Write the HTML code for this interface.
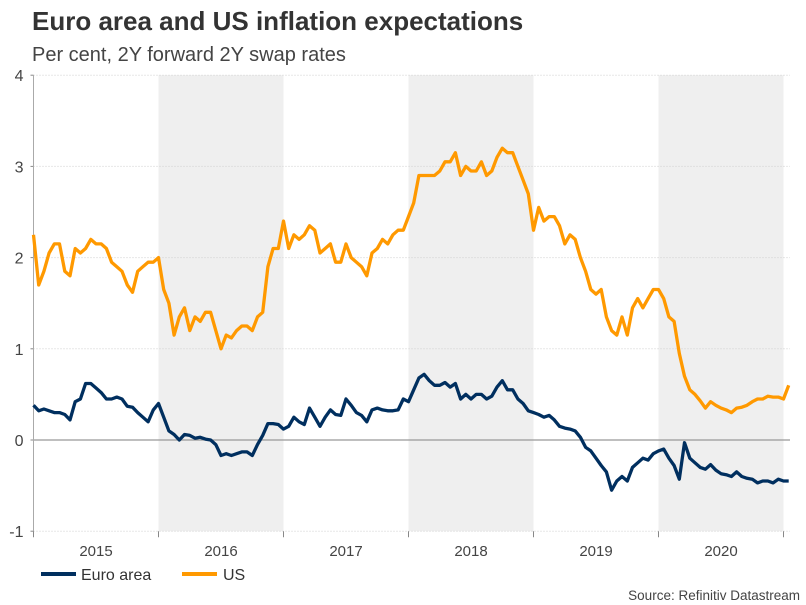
<!DOCTYPE html>
<html><head><meta charset="utf-8"><style>
body{margin:0;background:#fff;font-family:"Liberation Sans",Arial,sans-serif;}
#wrap{position:relative;width:806px;height:605px;overflow:hidden}
</style></head><body>
<div id="wrap">
<svg id="svg" width="806" height="605" xmlns="http://www.w3.org/2000/svg">
<text x="32" y="30" font-size="26" font-weight="bold" fill="#333" font-family="Liberation Sans, sans-serif">Euro area and US inflation expectations</text>
<text x="32" y="61" font-size="20" fill="#444" font-family="Liberation Sans, sans-serif">Per cent, 2Y forward 2Y swap rates</text>
<g id="plot"></g>
<g>
<line x1="41" y1="574" x2="76" y2="574" stroke="#002f5f" stroke-width="4"/>
<text x="81" y="580" font-size="16" fill="#333">Euro area</text>
<line x1="182" y1="574" x2="217" y2="574" stroke="#ff9900" stroke-width="4"/>
<text x="223" y="580" font-size="16" fill="#333">US</text>
</g>
<text x="800" y="600" font-size="13.5" fill="#444" text-anchor="end">Source: Refinitiv Datastream</text>
</svg>
</div>
<script>
const years = [2015,2016,2017,2018,2019,2020];
const shadedYears = [2016,2018,2020];
const yTicks = [-1,0,1,2,3,4];
const pointsPerYear = 24;
const usValues = [2.25,1.7,1.85,2.05,2.15,2.15,1.85,1.8,2.1,2.05,2.1,2.2,2.15,2.15,2.1,1.95,1.9,1.85,1.7,1.62,1.85,1.9,1.95,1.95,
2.0,1.65,1.5,1.15,1.35,1.45,1.2,1.35,1.3,1.4,1.4,1.2,1.0,1.15,1.12,1.2,1.25,1.25,1.2,1.35,1.4,1.9,2.1,2.1,
2.4,2.1,2.25,2.2,2.25,2.35,2.3,2.05,2.1,2.15,1.95,1.95,2.15,2.0,1.95,1.9,1.8,2.05,2.1,2.2,2.15,2.25,2.3,2.3,
2.45,2.6,2.9,2.9,2.9,2.9,2.95,3.05,3.05,3.15,2.9,3.0,2.95,2.95,3.05,2.9,2.95,3.1,3.2,3.15,3.15,3.0,2.85,2.7,
2.3,2.55,2.4,2.45,2.45,2.35,2.15,2.25,2.2,2.0,1.85,1.65,1.6,1.65,1.35,1.2,1.15,1.35,1.15,1.45,1.55,1.45,1.55,1.65,
1.65,1.55,1.35,1.3,0.95,0.7,0.55,0.5,0.43,0.35,0.42,0.38,0.35,0.33,0.3,0.35,0.36,0.38,0.42,0.45,0.45,0.48,0.47,0.47,0.45,0.6];
const euroValues = [0.38,0.32,0.34,0.32,0.3,0.3,0.28,0.22,0.42,0.45,0.62,0.62,0.57,0.52,0.45,0.45,0.47,0.45,0.37,0.36,0.3,0.25,0.2,0.33,
0.4,0.25,0.1,0.06,0.0,0.06,0.05,0.02,0.03,0.01,0.0,-0.05,-0.17,-0.15,-0.17,-0.15,-0.13,-0.13,-0.17,-0.05,0.05,0.18,0.18,0.17,
0.12,0.15,0.25,0.2,0.17,0.35,0.25,0.15,0.25,0.33,0.28,0.27,0.45,0.38,0.3,0.27,0.2,0.33,0.35,0.33,0.32,0.32,0.33,0.45,
0.42,0.55,0.68,0.72,0.65,0.6,0.6,0.63,0.58,0.62,0.45,0.5,0.45,0.5,0.5,0.45,0.48,0.58,0.65,0.55,0.55,0.45,0.4,0.32,
0.3,0.28,0.25,0.27,0.22,0.15,0.13,0.12,0.1,0.03,-0.08,-0.12,-0.2,-0.28,-0.35,-0.55,-0.45,-0.4,-0.45,-0.3,-0.25,-0.2,-0.22,-0.15,
-0.12,-0.1,-0.2,-0.28,-0.43,-0.03,-0.2,-0.25,-0.3,-0.32,-0.27,-0.33,-0.37,-0.38,-0.4,-0.35,-0.4,-0.42,-0.43,-0.47,-0.45,-0.45,-0.47,-0.43,-0.45,-0.45];

const NS='http://www.w3.org/2000/svg';
const X0=33.5, YEARW=125, RIGHT=790;
const xYear = y => X0 + (y-2015)*YEARW;
const xIdx = i => X0 + i*YEARW/pointsPerYear;
const yVal = v => 440 - v*91.2;
const plot=document.getElementById('plot');
function mk(tag,attrs){const e=document.createElementNS(NS,tag);for(const k in attrs)e.setAttribute(k,attrs[k]);plot.appendChild(e);return e;}

shadedYears.forEach(y=>{
  const r=mk('rect',{x:xYear(y),y:yVal(4),width:YEARW,height:yVal(-1)-yVal(4),fill:'#efefef'});
  
  
});
yTicks.forEach(t=>{
  if(t!==0){
    const g=mk('line',{x1:X0,x2:RIGHT,y1:yVal(t),y2:yVal(t),stroke:'#cfcfcf','stroke-dasharray':'1,2'});
    
    
  }
  const tk=mk('line',{x1:X0-3,x2:X0,y1:yVal(t),y2:yVal(t),stroke:'#888'});
  
  
  const tx=mk('text',{x:X0-10,y:yVal(t)+6,'font-size':16,fill:'#444','text-anchor':'end'});
  tx.textContent=t;
  
  
});
const zl=mk('line',{x1:X0,x2:RIGHT,y1:yVal(0),y2:yVal(0),stroke:'#999','stroke-width':1.2});


const ax=mk('line',{x1:X0,x2:X0,y1:yVal(4),y2:yVal(-1)+3,stroke:'#aaa'});


years.concat([2021]).forEach(y=>{
  const t=mk('line',{x1:xYear(y),x2:xYear(y),y1:yVal(-1),y2:yVal(-1)+6,stroke:'#888'});
  
  
});
years.forEach(y=>{
  const tx=mk('text',{x:xYear(y)+YEARW/2,y:556,'font-size':15,fill:'#444','text-anchor':'middle'});
  tx.textContent=y;
  
  
});
function series(vals,color,name){
  const d=vals.map((v,i)=>(i?'L':'M')+xIdx(i).toFixed(1)+','+yVal(v).toFixed(1)).join('');
  const p=mk('path',{d:d,fill:'none',stroke:color,'stroke-width':3.3,'stroke-linejoin':'round'});
  
  
}
series(euroValues,'#002f5f','euro-area-line');
series(usValues,'#ff9900','us-line');
</script>
</body></html>
